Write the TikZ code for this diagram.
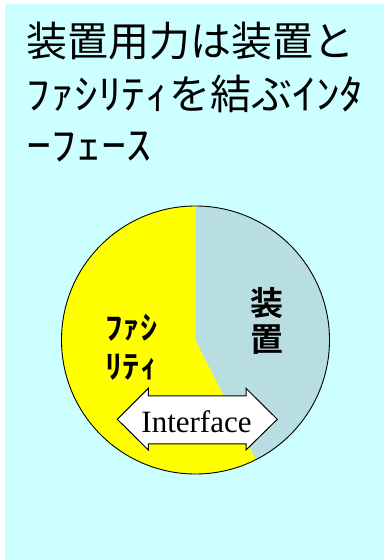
\documentclass[tikz,border=0pt]{standalone}
\usepackage{graphicx}
\usepackage{fontspec}
\setmainfont{Liberation Serif}
\newfontfamily\jp{Noto Sans CJK JP}
\newfontfamily\jpb{Noto Sans CJK JP Bold}
\newcommand{\kwide}[1]{\scalebox{1.16}[1]{#1}}
\definecolor{bgcyan}{RGB}{204,255,255}
\definecolor{slicegray}{RGB}{185,222,226}
\definecolor{pieyellow}{RGB}{255,255,0}
\tikzset{
  titletext/.style={anchor=west, inner sep=0pt, font=\jp\fontsize{41}{41}\selectfont},
  labeltext/.style={anchor=center, inner sep=0pt, font=\jpb\fontsize{32}{32}\selectfont},
  kanjitext/.style={anchor=center, inner sep=0pt, font=\jpb\fontsize{33}{33}\selectfont},
}
\begin{document}
\begin{tikzpicture}[x=1pt,y=1pt]
\useasboundingbox (0,0) rectangle (385,560);
\fill[white] (0,0) rectangle (385,560);
\fill[bgcyan] (5,0) rectangle (384,556);
% title
\node[titletext] (t1) at (26.5,518.5) {装置用力は装置と};
\node[titletext] (t2) at (26.5,466) {\kwide{ﾌｧｼﾘﾃｨ}を結ぶ\kwide{ｲﾝﾀ}};
\node[titletext] (t3) at (26.5,413) {\scalebox{1.22}[1]{ｰﾌｪｰｽ}};
% pie
\coordinate (c) at (195.5,220);
\fill[pieyellow] (c) circle[radius=134];
\fill[slicegray] (c) -- ++(90:134) arc[start angle=90, end angle=-63.2, radius=134] -- cycle;
\draw[black, line width=0.9pt] (c) circle[radius=134];
% arrow
\draw[fill=white, line width=1pt, line join=miter]
  (117.3,140.7) -- (148.3,171.7) -- (148.3,164) -- (246,164) -- (246,171.7)
  -- (277.3,140.7) -- (246,110) -- (246,116) -- (148.3,116) -- (148.3,110) -- cycle;
\node[anchor=base, inner sep=0pt, font=\fontsize{31}{31}\selectfont] (iface) at (196.5,127.7) {Interface};
% labels
\node[labeltext] (f1) at (131.5,232.5) {\scalebox{1.08}[1]{ﾌｧｼ}};
\node[labeltext] (f2) at (131.5,193) {\scalebox{1.08}[1]{ﾘﾃｨ}};
\node[kanjitext] (k1) at (267,257) {装};
\node[kanjitext] (k2) at (267,220) {置};
\end{tikzpicture}
\end{document}
